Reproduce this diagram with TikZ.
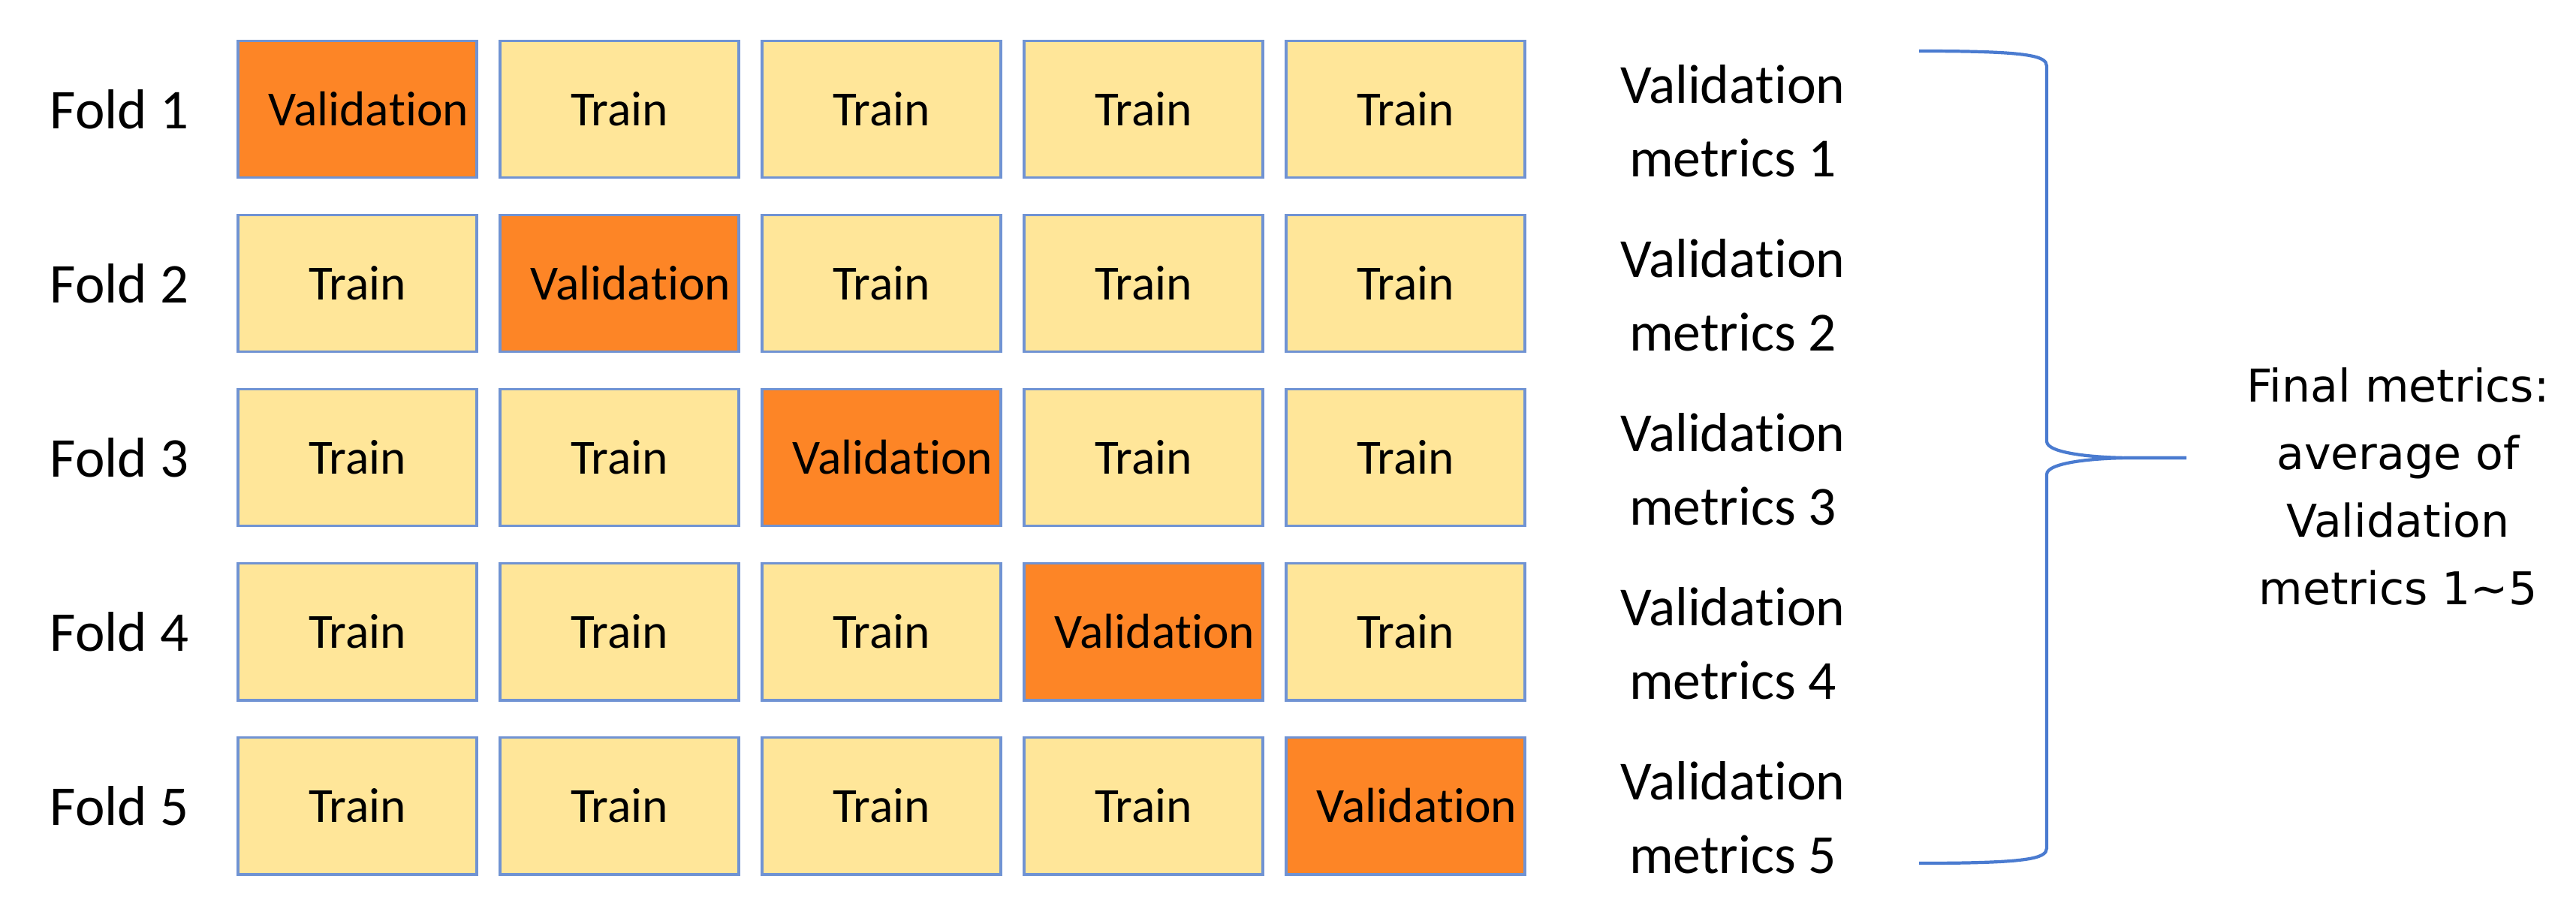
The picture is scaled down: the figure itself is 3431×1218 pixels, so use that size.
\documentclass[tikz,border=0pt]{standalone}
\usepackage{fontspec}
\setmainfont{Carlito}[RawFeature={-liga;-clig;-calt;-dlig}]
\newfontfamily\finalfont{DejaVu Sans}
\newcommand\valword{Valida\kern0pt tion}
\definecolor{valorange}{HTML}{FD8526}
\definecolor{trainyellow}{HTML}{FFE699}
\definecolor{boxblue}{HTML}{7093D3}
\definecolor{bracecol}{HTML}{4A7BD0}
\begin{document}
\begin{tikzpicture}[x=0.01cm,y=-0.01cm,
  cell/.style={draw=boxblue,line width=1.1pt,minimum width=3.18cm,minimum height=1.82cm,inner sep=0pt,font=\fontsize{18.6}{20}\selectfont},
  trainbox/.style={cell,fill=trainyellow},
  valbox/.style={cell,fill=valorange},
  foldlabel/.style={font=\fontsize{21.3}{24}\selectfont,inner sep=0pt},
  metriclabel/.style={font=\fontsize{20.9}{27.9}\selectfont,align=center,inner sep=0pt},
  finallabel/.style={font=\finalfont\fontsize{17.1}{25.6}\selectfont,align=center,inner sep=0pt},
  bracestyle/.style={draw=bracecol,line width=1.2pt}]
\useasboundingbox (0,0) rectangle (3431,1218);
\foreach \r in {1,...,5}{
  \pgfmathsetmacro{\yy}{145.5+232*(\r-1)}
  \node[foldlabel] (fold\r) at (159,\yy) {Fold \r};
  \foreach \c in {1,...,5}{
    \pgfmathsetmacro{\xx}{476+349*(\c-1)}
    \ifnum\c=\r
      \node[valbox] (b\r\c) at (\xx,\yy) {\hspace*{0.3cm}\valword};
    \else
      \node[trainbox] (b\r\c) at (\xx,\yy) {Train};
    \fi
  }
  \node[metriclabel] (m\r) at (2308,\yy+16) {\valword\\ metrics \r};
}
\coordinate (bt) at (2556,68);
\coordinate (bm) at (2912,610);
\coordinate (bb) at (2556,1150);
\draw[bracestyle] (bt) .. controls (2700,68) and (2726,74) .. (2726,88)
  -- (2726,588) .. controls (2726,604) and (2790,610) .. (2840,610) -- (bm);
\draw[bracestyle] (bm) -- (2840,610) .. controls (2790,610) and (2726,616) .. (2726,632)
  -- (2726,1130) .. controls (2726,1144) and (2700,1150) .. (bb);
\node[finallabel] (final) at (3194,648) {Final metrics:\\average of\\Validation\\metrics 1\textasciitilde 5};
\end{tikzpicture}
\end{document}
